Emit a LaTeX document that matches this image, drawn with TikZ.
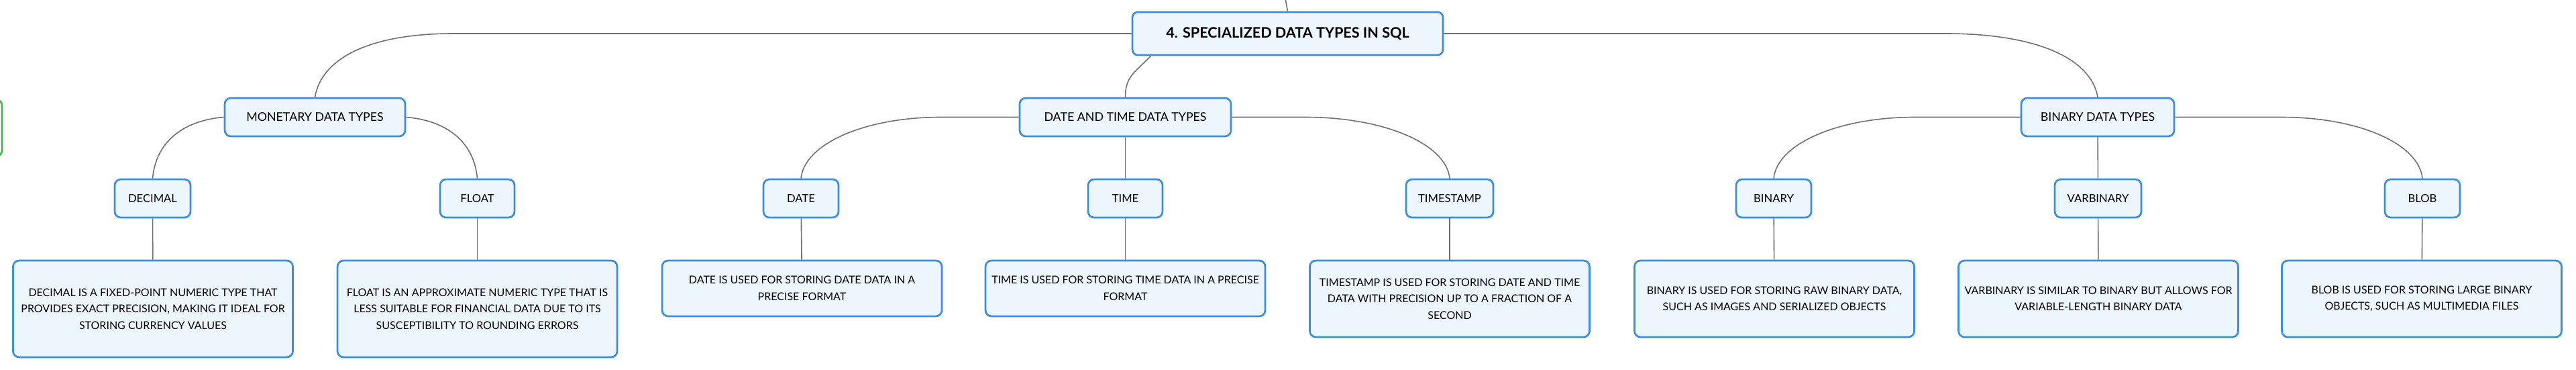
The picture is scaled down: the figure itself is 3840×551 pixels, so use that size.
\documentclass[tikz,border=0pt]{standalone}
\usepackage{fontspec}
\setmainfont{Lato}
\usetikzlibrary{positioning}
\definecolor{boxblue}{HTML}{3B8EDE}
\definecolor{boxfill}{HTML}{EEF6FD}
\definecolor{linkgray}{HTML}{707070}
\definecolor{sidegreen}{HTML}{4CAF50}

\begin{document}
\begin{tikzpicture}[
        x=0.5pt, y=0.5pt,
        box/.style = {draw=boxblue, fill=boxfill, line width=1.35pt, rounded corners=4.5pt, inner sep=2pt, align=center, font=\fontsize{8.3}{12}\selectfont},
        root/.style = {box, minimum width=231.5pt, minimum height=32pt, rounded corners=4pt, font=\fontsize{10.8}{13}\selectfont\bfseries},
        topic/.style = {box, minimum width=#1, minimum height=28.5pt, font=\fontsize{8.9}{12}\selectfont},
        leaf/.style = {box, minimum width=#1, minimum height=28.5pt},
        note/.style = {box, minimum width=208.5pt, minimum height=#1, font=\fontsize{8}{12.25}\selectfont},
        link/.style = {draw=linkgray, line width=0.8pt}]

    \def\ytopic{376.5}
    \def\yleaf{255.5}

    \useasboundingbox (0,0) rectangle (3840,551);

    % green box cut by the left edge
    \node (side) at (-50,360.5) [draw=sidegreen, line width=1.35pt, rounded corners=4.5pt, minimum width=53pt, minimum height=42.5pt] {};

    \node (sql) at (1919.5,501) [root] {4. SPECIALIZED DATA TYPES IN SQL};
    \coordinate (up) at (1916,553);

    \node (mon) at (469.5,\ytopic) [topic=134.5pt] {MONETARY DATA TYPES};
    \node (dat) at (1677.5,\ytopic) [topic=157.5pt] {DATE AND TIME DATA TYPES};
    \node (bin) at (3127,\ytopic) [topic=114pt] {BINARY DATA TYPES};

    \foreach \n/\x/\w/\t in {dec/227.5/56.5pt/DECIMAL, flo/711.5/55.5pt/FLOAT,
            date/1194/56pt/DATE, time/1677.5/55.5pt/TIME, ts/2161/65pt/TIMESTAMP,
            binary/2644/56pt/BINARY, varb/3127.5/64.5pt/VARBINARY, blob/3611/56pt/BLOB}
        \node (\n) at (\x,\yleaf) [leaf=\w] {\t};

    \node (dec-note) at (228,91) [note=72pt] {DECIMAL IS A FIXED-POINT NUMERIC TYPE THAT\\PROVIDES EXACT PRECISION, MAKING IT IDEAL FOR\\STORING CURRENCY VALUES};
    \node (flo-note) at (711.5,91) [note=72pt] {FLOAT IS AN APPROXIMATE NUMERIC TYPE THAT IS\\LESS SUITABLE FOR FINANCIAL DATA DUE TO ITS\\SUSCEPTIBILITY TO ROUNDING ERRORS};
    \node (date-note) at (1195.5,121.5) [note=41.5pt] {DATE IS USED FOR STORING DATE DATA IN A\\PRECISE FORMAT};
    \node (time-note) at (1677.5,121.5) [note=41.5pt] {TIME IS USED FOR STORING TIME DATA IN A PRECISE\\FORMAT};
    \node (ts-note) at (2161,106) [note=57pt] {TIMESTAMP IS USED FOR STORING DATE AND TIME\\DATA WITH PRECISION UP TO A FRACTION OF A\\SECOND};
    \node (binary-note) at (2645,106) [note=57pt] {BINARY IS USED FOR STORING RAW BINARY DATA,\\SUCH AS IMAGES AND SERIALIZED OBJECTS};
    \node (varb-note) at (3128,106) [note=57pt] {VARBINARY IS SIMILAR TO BINARY BUT ALLOWS FOR\\VARIABLE-LENGTH BINARY DATA};
    \node (blob-note) at (3610,106) [note=57pt] {BLOB IS USED FOR STORING LARGE BINARY\\OBJECTS, SUCH AS MULTIMEDIA FILES};

    % root links
    \draw[link] (up) -- (sql.north);
    \draw[link] (sql.west) -- (676,501) .. controls +(-125,0) and +(10,58) .. (mon.north);
    \draw[link] (sql.east) -- (2900,501) .. controls +(135,0) and +(-10,58) .. (bin.north);
    \draw[link] ([xshift=14.5pt]sql.south west) .. controls +(-25,-25) and +(0,30) .. (dat.north);

    % topic links
    \draw[link] (mon.west) .. controls +(-60,-5) and +(5,55) .. (dec.north);
    \draw[link] (mon.east) .. controls +(60,-5) and +(-5,55) .. (flo.north);
    \draw[link] (dat.west) -- (1403,\ytopic) .. controls +(-115,0) and +(5,51) .. (date.north);
    \path (dat) edge[link] (time);
    \draw[link] (dat.east) -- (1946,\ytopic) .. controls +(118,0) and +(-5,51) .. (ts.north);
    \draw[link] (bin.west) -- (2855,\ytopic) .. controls +(-116,0) and +(5,51) .. (binary.north);
    \path (bin) edge[link] (varb);
    \draw[link] (bin.east) -- (3401,\ytopic) .. controls +(116,0) and +(-5,51) .. (blob.north);

    \foreach \a in {dec,flo,date,time,ts,binary,varb,blob}
        \path (\a) edge[link] (\a-note);

\end{tikzpicture}
\end{document}
